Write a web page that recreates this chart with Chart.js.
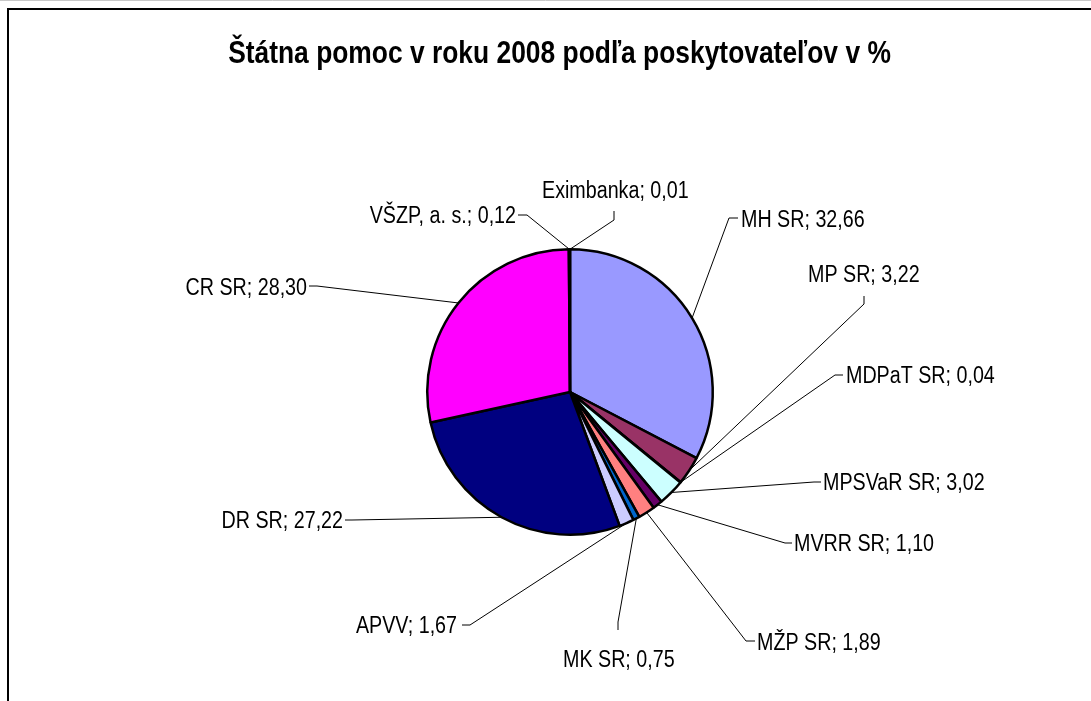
<!DOCTYPE html>
<html>
<head>
<meta charset="utf-8">
<script src="https://cdn.jsdelivr.net/npm/chart.js@4"></script>
<style>
    html, body { margin: 0; padding: 0; background: #fff; }
    #wrap { width: 1091px; height: 701px; position: relative; }
</style>
</head>
<body>
<div id="wrap"><canvas id="chart" width="1091" height="701"></canvas></div>
<script>
const providers = ['MH SR', 'MP SR', 'MDPaT SR', 'MPSVaR SR', 'MVRR SR', 'MŽP SR', 'MK SR', 'APVV', 'DR SR', 'CR SR', 'VŠZP, a. s.', 'Eximbanka'];
const shares = [32.66, 3.22, 0.04, 3.02, 1.10, 1.89, 0.75, 1.67, 27.22, 28.30, 0.12, 0.01];
const sliceColors = ['#9999FF', '#993366', '#FFFFCC', '#CCFFFF', '#660066', '#FF8080', '#0066CC', '#CCCCFF', '#000080', '#FF00FF', '#FFFF00', '#00FFFF'];
const chartTitle = 'Štátna pomoc v roku 2008 podľa poskytovateľov v %';

// label placement: text x, baseline y, align, then leader elbow (x1,y1) -> (x2,y2) -> slice edge
const labelLayout = [
    [741, 227, 'left', 738, 218, 729, 218],
    [808, 282, 'left', 864, 296, 864, 304],
    [846, 383, 'left', 843, 375, 835, 375],
    [823, 490, 'left', 821, 482, 814, 482],
    [794, 551, 'left', 792, 543, 785, 543],
    [757, 650, 'left', 755, 641, 746, 641],
    [563, 667, 'left', 618, 630, 618, 622],
    [457, 633, 'right', 462, 625, 470, 625],
    [343, 528, 'right', 345, 520, 352, 520],
    [307, 295, 'right', 309, 286, 317, 286],
    [516, 223, 'right', 518, 215, 527, 215],
    [542, 198, 'left', 614, 211, 614, 220]
];

const FONT = '"Liberation Sans", Arial, sans-serif';
const STRETCH = 1.2;

function stretchedText(ctx, text, x, y, align) {
    ctx.save();
    ctx.translate(x, y);
    ctx.scale(1, STRETCH);
    ctx.textAlign = align;
    ctx.textBaseline = 'alphabetic';
    ctx.fillText(text, 0, 0);
    ctx.restore();
}

const decorPlugin = {
    id: 'decor',
    beforeDraw(chart) {
        const ctx = chart.ctx;
        ctx.save();
        ctx.fillStyle = '#fff';
        ctx.fillRect(0, 0, chart.width, chart.height);
        ctx.strokeStyle = '#c8c8c8';
        ctx.lineWidth = 1;
        ctx.beginPath();
        ctx.moveTo(0, 0.5);
        ctx.lineTo(chart.width, 0.5);
        ctx.stroke();
        ctx.strokeStyle = '#000';
        ctx.lineWidth = 2;
        ctx.strokeRect(8, 9, chart.width + 20, chart.height + 20);
        ctx.fillStyle = '#000';
        ctx.font = 'bold 26.4px ' + FONT;
        stretchedText(ctx, chartTitle, 559.5, 63, 'center');
        ctx.restore();
    },
    afterDatasetsDraw(chart) {
        const ctx = chart.ctx;
        const arcs = chart.getDatasetMeta(0).data;
        ctx.save();
        ctx.strokeStyle = '#000';
        ctx.fillStyle = '#000';
        ctx.lineWidth = 1;
        ctx.font = '19.7px ' + FONT;
        arcs.forEach((arc, i) => {
            const p = arc.getProps(['x', 'y', 'startAngle', 'endAngle', 'outerRadius'], true);
            const mid = (p.startAngle + p.endAngle) / 2;
            const ax = p.x + Math.cos(mid) * p.outerRadius;
            const ay = p.y + Math.sin(mid) * p.outerRadius;
            const L = labelLayout[i];
            ctx.beginPath();
            ctx.moveTo(L[3], L[4]);
            ctx.lineTo(L[5], L[6]);
            ctx.lineTo(ax, ay);
            ctx.stroke();
            const txt = providers[i] + '; ' + shares[i].toFixed(2).replace('.', ',');
            stretchedText(ctx, txt, L[0], L[1], L[2]);
        });
        ctx.restore();
    }
};

new Chart(document.getElementById('chart'), {
    type: 'pie',
    data: {
        labels: providers,
        datasets: [{
            data: shares,
            backgroundColor: sliceColors,
            borderColor: '#000',
            borderWidth: 2.5
        }]
    },
    options: {
        responsive: false,
        animation: false,
        layout: { padding: { left: 426, right: 377, top: 248, bottom: 165 } },
        plugins: {
            legend: { display: false },
            title: { display: false },
            tooltip: { enabled: false }
        }
    },
    plugins: [decorPlugin]
});
</script>
</body>
</html>
